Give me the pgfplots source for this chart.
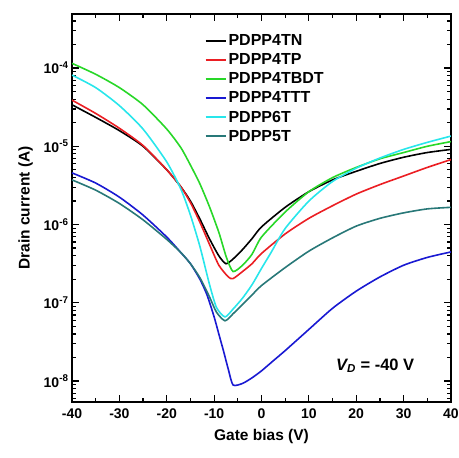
\documentclass[border=0pt]{standalone}
\usepackage{pgfplots}
\pgfplotsset{compat=1.18}
\usepackage{fontspec}
\setmainfont{Liberation Sans}
\definecolor{cgreen}{RGB}{40,215,40}
\definecolor{cred}{RGB}{235,30,35}
\definecolor{cblue}{RGB}{25,25,210}
\definecolor{ccyan}{RGB}{40,230,235}
\definecolor{cteal}{RGB}{40,120,120}
\begin{document}
\begin{tikzpicture}
\useasboundingbox (0,0) rectangle (459pt,458pt);
\begin{axis}[
  at={(72pt,56pt)}, anchor=south west,
  scale only axis, width=379pt, height=388pt,
  ymode=log,
  xmin=-40, xmax=40, ymin=5.4e-9, ymax=4.9e-4,
  xtick={-40,-30,-20,-10,0,10,20,30,40},
  xticklabels={-40,-30,-20,-10,0,10,20,30,40},
  minor xtick={-35,-25,-15,-5,5,15,25,35},
  ytick={1e-8,1e-7,1e-6,1e-5,1e-4},
  yticklabels={10\textsuperscript{-8},10\textsuperscript{-7},10\textsuperscript{-6},10\textsuperscript{-5},10\textsuperscript{-4}},
  minor ytick={6e-9,7e-9,8e-9,9e-9,2e-8,3e-8,4e-8,5e-8,6e-8,7e-8,8e-8,9e-8,2e-7,3e-7,4e-7,5e-7,6e-7,7e-7,8e-7,9e-7,2e-6,3e-6,4e-6,5e-6,6e-6,7e-6,8e-6,9e-6,2e-5,3e-5,4e-5,5e-5,6e-5,7e-5,8e-5,9e-5,2e-4,3e-4,4e-4},
  tick align=inside,
  major tick length=7pt, minor tick length=4pt,
  tick style={black, line width=1.2pt},
  axis line style={line width=1.8pt},
  ticklabel style={font=\bfseries\fontsize{14}{16}\selectfont},
  xticklabel style={yshift=-3pt},
  xlabel={\bfseries Gate bias (V)},
  ylabel={\bfseries Drain current (A)},
  label style={font=\bfseries\fontsize{15.5}{18}\selectfont},
  xlabel style={yshift=-4pt},
  ylabel style={yshift=4pt},
  legend style={at={(rel axis cs:0.35,0.952)}, anchor=north west, draw=none, fill=none,
    font=\bfseries\fontsize{16}{18}\selectfont, row sep=2.5pt, inner sep=0pt},
  legend cell align=left,
  legend image code/.code={\draw[#1, line width=1.7pt] (0pt,0pt) -- (20pt,0pt);},
  cur/.style={line width=1.6pt, smooth, tension=0.4},
  clip=true,
]
\addplot[black, cur] coordinates {
(-40,3.39e-5) (-35,2.34e-5) (-30,1.585e-5) (-25,1.0e-5) (-20,5.01e-6) (-17,3.02e-6) (-15,1.995e-6) (-13,1.175e-6) (-11,6.61e-7) (-9,3.98e-7) (-7.5,3.16e-7) (-6,3.63e-7) (-4,4.79e-7) (-2,6.61e-7) (0,9.33e-7) (5,1.66e-6) (10,2.63e-6) (15,3.72e-6) (20,4.79e-6) (25,6.03e-6) (30,7.24e-6) (35,8.32e-6) (40,9.12e-6)};
\addlegendentry{PDPP4TN}
\addplot[cred, cur] coordinates {
(-40,3.89e-5) (-35,2.63e-5) (-30,1.70e-5) (-25,1.023e-5) (-20,5.01e-6) (-17,3.02e-6) (-15,1.905e-6) (-13,1.07e-6) (-11,5.62e-7) (-9,3.02e-7) (-7,2.14e-7) (-6,2.04e-7) (-4,2.51e-7) (-2,3.16e-7) (0,4.27e-7) (5,7.59e-7) (10,1.20e-6) (15,1.74e-6) (20,2.45e-6) (25,3.24e-6) (30,4.17e-6) (35,5.37e-6) (40,6.76e-6)};
\addlegendentry{PDPP4TP}
\addplot[cgreen, cur] coordinates {
(-40,1.148e-4) (-35,8.32e-5) (-30,5.62e-5) (-25,3.39e-5) (-20,1.66e-5) (-17,9.55e-6) (-15,5.75e-6) (-13,3.31e-6) (-11,1.70e-6) (-9,7.94e-7) (-7.4,3.80e-7) (-6,2.51e-7) (-4,3.02e-7) (-2,4.17e-7) (0,6.92e-7) (5,1.445e-6) (10,2.63e-6) (15,3.98e-6) (20,5.37e-6) (25,6.92e-6) (30,8.32e-6) (35,1.0e-5) (40,1.148e-5)};
\addlegendentry{PDPP4TBDT}
\addplot[cblue, cur] coordinates {
(-40,4.57e-6) (-35,3.39e-6) (-30,2.24e-6) (-25,1.32e-6) (-20,6.92e-7) (-17,4.37e-7) (-15,3.16e-7) (-13,2.0e-7) (-11.5,1.26e-7) (-10,6.61e-8) (-9,3.98e-8) (-8,2.40e-8) (-7,1.41e-8) (-6,8.91e-9) (-4,9.33e-9) (-2,1.10e-8) (0,1.35e-8) (2.5,1.82e-8) (5,2.45e-8) (10,4.57e-8) (15,8.51e-8) (20,1.41e-7) (25,2.14e-7) (30,3.02e-7) (35,3.80e-7) (40,4.47e-7)};
\addlegendentry{PDPP4TTT}
\addplot[ccyan, cur] coordinates {
(-40,8.13e-5) (-35,5.62e-5) (-30,3.31e-5) (-25,1.66e-5) (-20,6.31e-6) (-17,2.82e-6) (-15,1.32e-6) (-13,5.25e-7) (-11,1.74e-7) (-9.5,8.71e-8) (-7.7,6.61e-8) (-6,8.32e-8) (-4,1.148e-7) (-2,1.70e-7) (0,2.75e-7) (2,4.37e-7) (5,8.91e-7) (10,1.995e-6) (15,3.55e-6) (20,5.25e-6) (25,7.08e-6) (30,9.12e-6) (35,1.122e-5) (40,1.35e-5)};
\addlegendentry{PDPP6T}
\addplot[cteal, cur] coordinates {
(-40,3.72e-6) (-35,2.75e-6) (-30,1.86e-6) (-25,1.148e-6) (-20,6.46e-7) (-17,4.37e-7) (-15,3.16e-7) (-13,2.09e-7) (-11,1.20e-7) (-9.5,7.59e-8) (-7.7,5.89e-8) (-6,7.24e-8) (-4,9.55e-8) (-2,1.26e-7) (0,1.66e-7) (5,2.82e-7) (10,4.57e-7) (15,6.76e-7) (20,9.55e-7) (25,1.20e-6) (30,1.41e-6) (35,1.585e-6) (40,1.66e-6)};
\addlegendentry{PDPP5T}
\node[font=\bfseries\fontsize{16.5}{18}\selectfont] at (rel axis cs:0.80,0.093) {\textit{V\textsubscript{D}} = -40 V};
\end{axis}
\end{tikzpicture}
\end{document}
